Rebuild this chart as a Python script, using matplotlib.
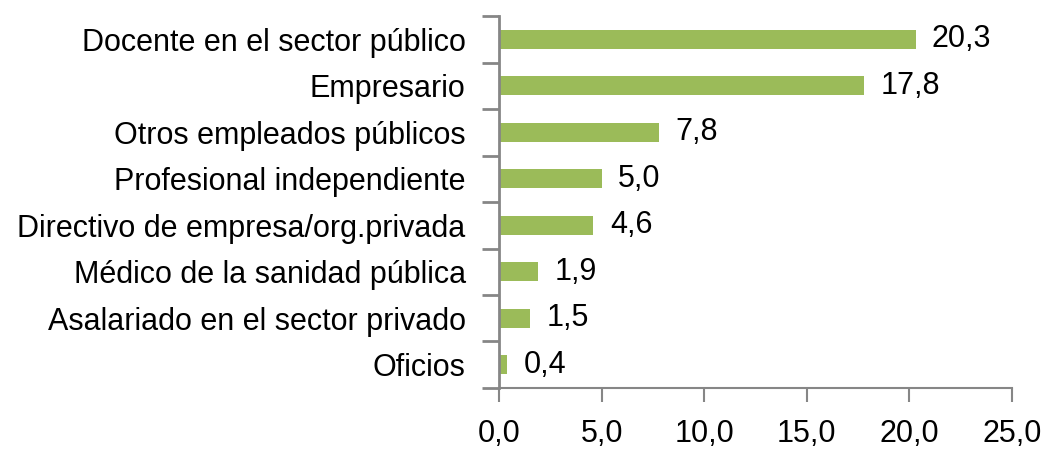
import matplotlib.pyplot as plt

categorias = ['Docente en el sector público', 'Empresario', 'Otros empleados públicos',
              'Profesional independiente', 'Directivo de empresa/org.privada',
              'Médico de la sanidad pública', 'Asalariado en el sector privado', 'Oficios']
valores = [20.3, 17.8, 7.8, 5.0, 4.6, 1.9, 1.5, 0.4]
ticks_x = [0, 5, 10, 15, 20, 25]

plt.rcParams['font.family'] = ['Liberation Sans', 'DejaVu Sans']

verde = '#9BBB59'
gris = '#868686'
tam = 22

fig = plt.figure(figsize=(10.43, 4.51), dpi=100)
ax = fig.add_axes([0.4784, 0.1397, 0.4919, 0.8248])

pos = list(range(len(categorias)))
ax.barh(pos, valores, height=0.41, color=verde)
for p, v in zip(pos, valores):
    ax.text(v + 0.8, p, f'{v:.1f}'.replace('.', ','), va='center', ha='left', fontsize=tam)

ax.set_ylim(len(categorias) - 0.5, -0.5)
ax.set_xlim(0, 25)

# separadores entre categorías como ticks mayores, etiquetas en los menores
ax.set_yticks([p - 0.5 for p in pos] + [len(categorias) - 0.5])
ax.set_yticklabels([])
ax.set_yticks(pos, minor=True)
ax.set_yticklabels(categorias, minor=True, fontsize=tam)
ax.tick_params(axis='y', which='minor', length=0, pad=24)
ax.tick_params(axis='y', which='major', length=12, width=2, color=gris, direction='out')
ax.set_xticks(ticks_x)
ax.set_xticklabels([f'{t:.1f}'.replace('.', ',') for t in ticks_x], fontsize=tam)
ax.tick_params(axis='x', length=10, width=1.5, color=gris, pad=12)

for lado in ['top', 'right']:
    ax.spines[lado].set_visible(False)
ax.spines['left'].set_color(gris)
ax.spines['left'].set_linewidth(2)
ax.spines['bottom'].set_color(gris)
ax.spines['bottom'].set_linewidth(1.5)

fig.savefig('out.png', dpi=100)
